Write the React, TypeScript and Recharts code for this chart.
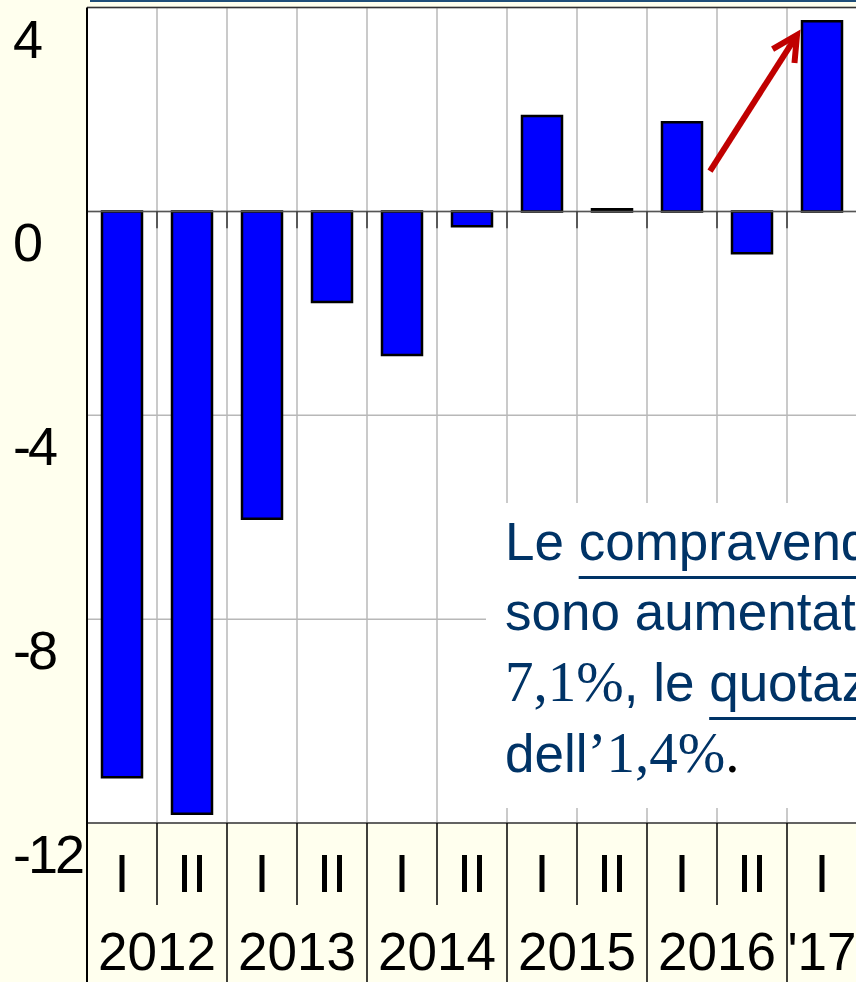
import { BarChart, Bar, XAxis, YAxis, CartesianGrid, ReferenceLine } from "recharts";

// half-year periods, 2012 to first half 2017
const periods = ["2012-I", "2012-II", "2013-I", "2013-II", "2014-I", "2014-II", "2015-I", "2015-II", "2016-I", "2016-II", "2017-I"];
const halfLabels = ["I", "II", "I", "II", "I", "II", "I", "II", "I", "II", "I"];
const yearLabels = ["2012", "2012", "2013", "2013", "2014", "2014", "2015", "2015", "2016", "2016", "'17"];
// % change on the same period of the previous year
const changes = [-11.1, -11.82, -6.03, -1.78, -2.82, -0.29, 1.87, 0.04, 1.75, -0.82, 3.73];
const yTicks = [4, 0, -4, -8, -12];

// red arrow, from the top of 2016-I towards 2017-I
const arrowFrom = { period: "2016-II", value: 0.79 };
const arrowTo = { period: "2017-I", value: 3.46 };

const data = periods.map((p, i) => ({ period: p, value: changes[i] }));

const SANS = "'Liberation Sans', Arial, sans-serif";
const SERIF = "'Liberation Serif', 'Times New Roman', serif";
const NAVY = "#003366";
const CREAM = "#FFFFEE";
const GRID = "#B8B8B8";

function PeriodTick(props: any) {
  const { x, y, payload } = props;
  const i = props.index ?? payload.index;
  const half = payload.offset ?? 35;
  const left = x - half;
  const firstOfYear = i === 0 || yearLabels[i] !== yearLabels[i - 1];
  const count = yearLabels.filter((l) => l === yearLabels[i]).length;
  return (
    <g>
      <line
        x1={left}
        x2={left}
        y1={y}
        y2={y + (firstOfYear ? 159 : 82)}
        stroke="#000"
        strokeWidth={i === 0 ? 2 : 1.5}
      />
      <text x={x} y={y + 69} textAnchor="middle" fontSize={54} fontFamily={SANS} fill="#000">
        {halfLabels[i]}
      </text>
      {firstOfYear && (
        <text x={left + count * half} y={y + 147} textAnchor="middle" fontSize={53} fontFamily={SANS} fill="#000">
          {yearLabels[i]}
        </text>
      )}
    </g>
  );
}

function ValueTick(props: any) {
  const { y, payload } = props;
  return (
    <text x={13} y={y + 50} textAnchor="start" fontSize={54} letterSpacing={-3} fontFamily={SANS} fill="#000">
      {payload.value}
    </text>
  );
}

function ArrowShape(props: any) {
  const { x1, y1, x2, y2 } = props;
  const sx = x1 - 7;
  const ex = x2 + 10;
  const dx = ex - sx;
  const dy = y2 - y1;
  const len = Math.hypot(dx, dy);
  const ux = dx / len;
  const uy = dy / len;
  const bx = ex - ux * 25;
  const by = y2 - uy * 25;
  const w = 13;
  const p1 = `${bx + uy * w},${by - ux * w}`;
  const p2 = `${bx - uy * w},${by + ux * w}`;
  return (
    <g stroke="#C00000" strokeWidth={6} fill="none">
      <line x1={sx} y1={y1} x2={ex - ux * 3} y2={y2 - uy * 3} />
      <polyline points={`${p1} ${ex},${y2} ${p2}`} strokeLinejoin="miter" />
    </g>
  );
}

const underline: React.CSSProperties = {
  textDecoration: "underline",
  textDecorationThickness: 3,
  textUnderlineOffset: 16,
};
const serif: React.CSSProperties = { fontFamily: SERIF, fontSize: 57 };

export default function App() {
  return (
    <div
      style={{
        position: "absolute",
        left: 0,
        top: 0,
        width: 856,
        height: 982,
        overflow: "hidden",
        background: CREAM,
        fontFamily: SANS,
      }}
    >
      <BarChart width={857} height={982} data={data} margin={{ top: 7.5, right: 0, bottom: 0, left: 0 }}>
        <CartesianGrid vertical={false} stroke={GRID} strokeWidth={1.5} fill="#FFFFFF" />
        {periods.slice(1).map((p) => (
          <ReferenceLine key={"g" + p} x={p} position="start" stroke={GRID} strokeWidth={1.5} />
        ))}
        <XAxis
          dataKey="period"
          height={159}
          interval={0}
          tickSize={0}
          tickMargin={0}
          tickLine={false}
          axisLine={{ stroke: "#404040", strokeWidth: 1.5 }}
          tick={<PeriodTick />}
        />
        <YAxis
          width={87}
          domain={[-12, 4]}
          ticks={yTicks}
          interval={0}
          tickLine={false}
          axisLine={{ stroke: "#000", strokeWidth: 2 }}
          tick={<ValueTick />}
        />
        <ReferenceLine y={4} stroke="#333" strokeWidth={1.5} />
        <ReferenceLine y={0} stroke="#555" strokeWidth={1.5} />
        {periods.slice(1).map((p) => (
          <ReferenceLine
            key={"t" + p}
            segment={[{ x: p, y: 0 }, { x: p, y: -0.33 }]}
            position="start"
            stroke="#333"
            strokeWidth={1.5}
          />
        ))}
        <Bar dataKey="value" barSize={40} fill="#0000FF" stroke="#000" strokeWidth={2.5} isAnimationActive={false} />
        <ReferenceLine
          segment={[
            { x: arrowFrom.period, y: arrowFrom.value },
            { x: arrowTo.period, y: arrowTo.value },
          ]}
          position="start"
          shape={<ArrowShape />}
        />
      </BarChart>

      <div style={{ position: "absolute", left: 90, top: 0, width: 766, height: 2, background: "#1F4E79" }} />

      <div
        style={{
          position: "absolute",
          left: 486,
          top: 503,
          width: 370,
          height: 305,
          boxSizing: "border-box",
          paddingLeft: 19,
          paddingTop: 4,
          background: "#FFFFFF",
          color: NAVY,
          fontSize: 53,
          lineHeight: "70px",
          whiteSpace: "nowrap",
          overflow: "hidden",
        }}
      >
        <div>
          Le <span style={underline}>compravendite</span>
        </div>
        <div>sono aumentate del</div>
        <div>
          <span style={serif}>7,1%</span>, le <span style={underline}>quotazioni</span>
        </div>
        <div>
          dell<span style={serif}>’1,4%</span>
          <span style={{ ...serif, color: "#000" }}>.</span>
        </div>
      </div>
    </div>
  );
}
